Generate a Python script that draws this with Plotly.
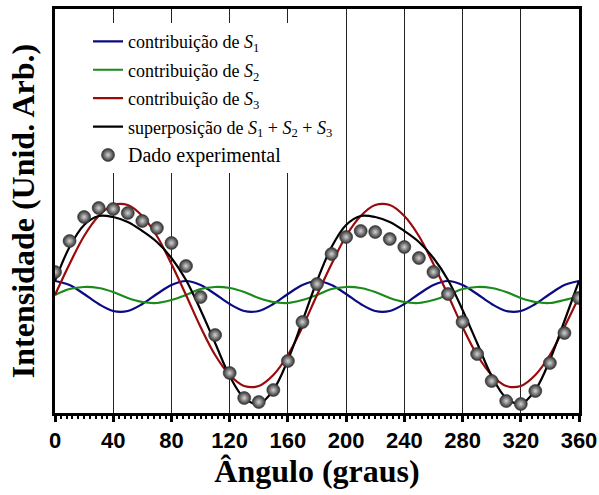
import plotly.graph_objects as go

# Angles (degrees)
angles = [0, 10, 20, 30, 40, 50, 60, 70, 80, 90, 100, 110, 120, 130, 140, 150, 160, 170, 180,
          190, 200, 210, 220, 230, 240, 250, 260, 270, 280, 290, 300, 310, 320, 330, 340, 350, 360]

# Contribution of S1 (arb. units)
s1 = [1.32, 1.28, 1.19, 1.09, 1.02, 1.02, 1.09, 1.19, 1.28,
      1.32, 1.28, 1.19, 1.09, 1.02, 1.02, 1.09, 1.19, 1.28,
      1.32, 1.28, 1.19, 1.09, 1.02, 1.02, 1.09, 1.19, 1.28,
      1.32, 1.28, 1.19, 1.09, 1.02, 1.02, 1.09, 1.19, 1.28,
      1.32]

# Contribution of S2
s2 = [1.18, 1.24, 1.26, 1.25, 1.21, 1.15, 1.11, 1.10, 1.13,
      1.18, 1.24, 1.26, 1.25, 1.21, 1.15, 1.11, 1.10, 1.13,
      1.18, 1.24, 1.26, 1.25, 1.21, 1.15, 1.11, 1.10, 1.13,
      1.18, 1.24, 1.26, 1.25, 1.21, 1.15, 1.11, 1.10, 1.13,
      1.17]

# Contribution of S3
s3 = [1.18, 1.49, 1.77, 1.97, 2.08, 2.08, 1.97, 1.77, 1.49,
      1.18, 0.86, 0.58, 0.38, 0.27, 0.27, 0.38, 0.58, 0.86,
      1.18, 1.49, 1.77, 1.97, 2.08, 2.08, 1.97, 1.77, 1.49,
      1.18, 0.86, 0.58, 0.38, 0.27, 0.27, 0.38, 0.58, 0.86,
      1.16]

# Superposition S1 + S2 + S3
sup = [1.32, 1.66, 1.88, 1.97, 1.96, 1.91, 1.82, 1.71, 1.55,
       1.33, 1.03, 0.70, 0.37, 0.15, 0.09, 0.23, 0.53, 0.92,
       1.32, 1.66, 1.88, 1.97, 1.96, 1.91, 1.82, 1.71, 1.55,
       1.33, 1.03, 0.70, 0.37, 0.15, 0.09, 0.23, 0.53, 0.92,
       1.32]

# Experimental data
exp_data = [1.41, 1.72, 1.96, 2.05, 2.04, 2.00, 1.92, 1.85, 1.70, 1.47,
            1.16, 0.78, 0.40, 0.15, 0.11, 0.23, 0.52, 0.91, 1.29, 1.59,
            1.76, 1.82, 1.81, 1.74, 1.66, 1.55, 1.41, 1.19, 0.91, 0.59,
            0.32, 0.12, 0.09, 0.22, 0.50, 0.80, 1.15]

x_ticks = [0, 40, 80, 120, 160, 200, 240, 280, 320, 360]

serif = "Liberation Serif, Times New Roman, serif"
sans = "Liberation Sans, Arial, sans-serif"

fig = go.Figure()

line_specs = [
    (s1, "#0a0a82", "contribuição de <i>S</i><sub>1</sub>"),
    (s2, "#1a8a1a", "contribuição de <i>S</i><sub>2</sub>"),
    (s3, "#9a0a0a", "contribuição de <i>S</i><sub>3</sub>"),
    (sup, "#000000", "superposição de <i>S</i><sub>1</sub> + <i>S</i><sub>2</sub> + <i>S</i><sub>3</sub>"),
]
for i, (vals, col, name) in enumerate(line_specs):
    fig.add_trace(go.Scatter(
        x=angles, y=vals, mode="lines", name=name,
        line=dict(color=col, width=2.2, shape="spline"),
        legendgroup=f"g{i}",
    ))

fig.add_trace(go.Scatter(
    x=angles, y=exp_data, mode="markers",
    name='<span style="font-size:20px">Dado experimental</span>',
    marker=dict(size=13, color="#2e2e2e",
                gradient=dict(type="radial", color="#d4d4d4"),
                line=dict(color="#333333", width=0.6)),
    legendgroup="g4",
))

fig.update_layout(
    width=599, height=495,
    margin=dict(l=55, r=20, t=9, b=82),
    paper_bgcolor="white", plot_bgcolor="white",
    showlegend=True,
    legend=dict(
        x=0.063, y=0.965, xanchor="left", yanchor="top",
        bgcolor="white", borderwidth=0,
        font=dict(family=serif, size=18, color="black"),
        tracegroupgap=2,
    ),
)

fig.update_xaxes(
    range=[0, 360], tickvals=x_ticks, automargin=False,
    ticks="outside", ticklen=6, tickwidth=3, tickcolor="black",
    minor=dict(dtick=4, ticks="outside", ticklen=3, tickwidth=1.5, tickcolor="black", showgrid=False),
    showline=True, linewidth=3, linecolor="black", mirror=True,
    showgrid=True, gridcolor="#222222", gridwidth=1,
    zeroline=False,
    tickfont=dict(family=sans, size=22, color="black", weight="bold"),
    title=dict(text="Ângulo (graus)", standoff=8,
               font=dict(family=serif, size=32, color="black", weight="bold")),
)

fig.update_yaxes(
    range=[0, 4.04], automargin=False,
    showticklabels=False, ticks="",
    showline=True, linewidth=3, linecolor="black", mirror=True,
    showgrid=False, zeroline=False,
    title=dict(text="Intensidade (Unid. Arb.)", standoff=8,
               font=dict(family=serif, size=32, color="black", weight="bold")),
)

fig.write_html(
    "out.html",
    config={"displayModeBar": False},
    post_script="document.body.style.margin='0';document.body.style.overflow='hidden';",
)
